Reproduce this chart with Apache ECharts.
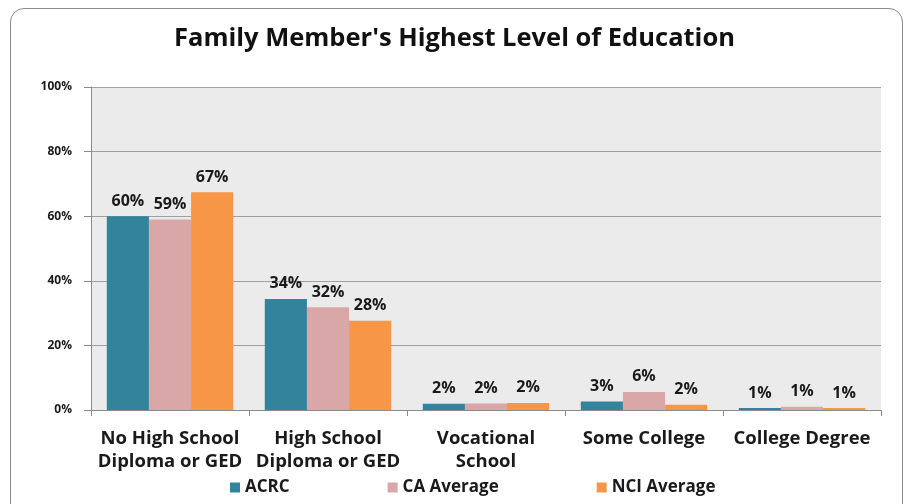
<!DOCTYPE html>
<html>
<head>
<meta charset="utf-8">
<script src="https://cdn.jsdelivr.net/npm/echarts@6/dist/echarts.min.js"></script>
<style>
  html, body { margin: 0; padding: 0; background: #fff; }
  #frame {
    position: absolute; left: 10px; top: 8px; width: 893px; height: 510px;
    border: 1.5px solid #8c8c8c; border-radius: 14px; box-sizing: border-box;
  }
  #chart { position: absolute; left: 0; top: 0; width: 909px; height: 504px; }
</style>
</head>
<body>
<div id="frame"></div>
<div id="chart"></div>
<script>
// categories and series (percent)
const categories = ['No High School\nDiploma or GED', 'High School\nDiploma or GED', 'Vocational\nSchool', 'Some College', 'College Degree']
const acrc = [60, 34.4, 1.9, 2.6, 0.6]
const caAverage = [59, 31.8, 2.0, 5.6, 1.0]
const nciAverage = [67.4, 27.6, 2.2, 1.6, 0.6]
const yTicks = [0, 20, 40, 60, 80, 100]

const chart = echarts.init(document.getElementById('chart'))

const labelStyle = {
  show: true,
  position: 'top',
  distance: 7,
  fontFamily: 'Open Sans',
  fontWeight: 'bold',
  fontSize: 16,
  color: '#1a1a1a',
  formatter: (p) => Math.round(p.value) + '%'
}

const option = {
  animation: false,
  title: {
    text: "Family Member's Highest Level of Education",
    left: 'center',
    top: 21,
    textStyle: { fontFamily: 'Open Sans', fontWeight: 'bold', fontSize: 25.5, color: '#111' }
  },
  legend: {
    bottom: 3,
    left: 225,
    itemWidth: 10,
    itemHeight: 10,
    itemGap: 98,
    icon: 'rect',
    textStyle: { fontFamily: 'Open Sans', fontWeight: 'bold', fontSize: 17, color: '#1a1a1a' },
    data: ['ACRC', 'CA Average', 'NCI Average']
  },
  grid: {
    left: 91, right: 28, top: 87, bottom: 94,
    show: true,
    backgroundColor: '#ebebeb',
    borderWidth: 0
  },
  xAxis: {
    type: 'category',
    data: categories,
    axisLine: { lineStyle: { color: '#8a8a8a', width: 1 } },
    axisTick: { show: true, length: 6, lineStyle: { color: '#8a8a8a' } },
    axisLabel: {
      margin: 17,
      fontFamily: 'Open Sans',
      fontWeight: 'bold',
      fontSize: 18.5,
      lineHeight: 23,
      color: '#1a1a1a',
      interval: 0
    }
  },
  yAxis: {
    type: 'value',
    min: yTicks[0],
    max: yTicks[yTicks.length - 1],
    interval: 20,
    axisLine: { show: true, lineStyle: { color: '#8a8a8a' } },
    axisTick: { show: true, length: 7, lineStyle: { color: '#8a8a8a' } },
    splitLine: { lineStyle: { color: '#a0a0a0', width: 1 } },
    axisLabel: {
      margin: 19,
      fontFamily: 'Open Sans',
      fontWeight: 'bold',
      fontSize: 12,
      color: '#1a1a1a',
      formatter: '{value}%'
    }
  },
  series: [
    { name: 'ACRC', type: 'bar', data: acrc, barGap: '0%', barCategoryGap: '20%',
      itemStyle: { color: '#31849b' }, label: labelStyle },
    { name: 'CA Average', type: 'bar', data: caAverage,
      itemStyle: { color: '#d9a7a7' }, label: labelStyle },
    { name: 'NCI Average', type: 'bar', data: nciAverage,
      itemStyle: { color: '#f79646' }, label: labelStyle }
  ]
}

chart.setOption(option)
</script>
</body>
</html>
